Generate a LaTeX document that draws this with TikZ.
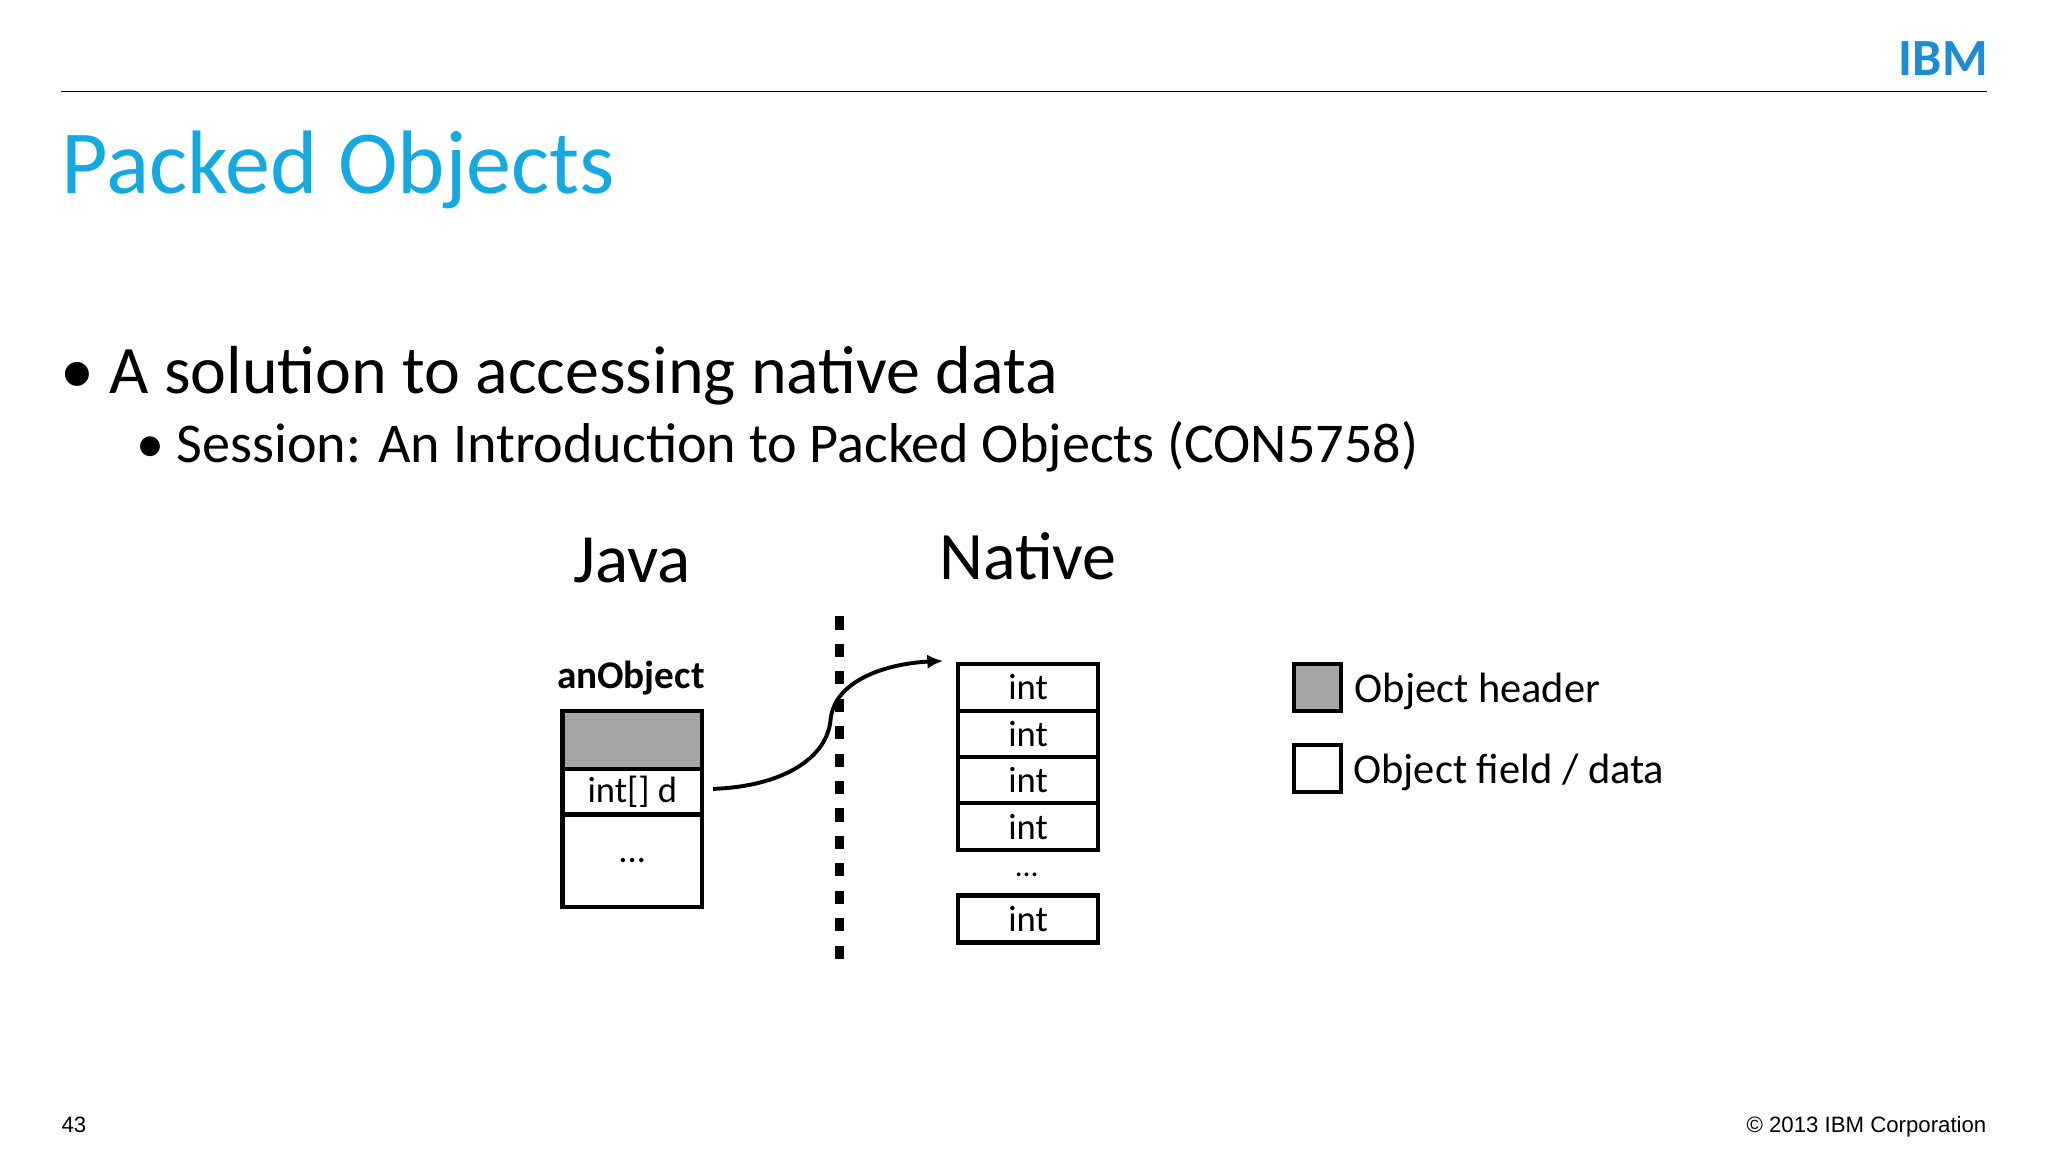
\documentclass[tikz,border=0pt]{standalone}
\usepackage{fontspec}
\usetikzlibrary{arrows.meta}
\setmainfont{Carlito}
\newfontfamily\arialf{Liberation Sans}
\definecolor{ibmcyan}{RGB}{20,170,225}
\definecolor{ibmblue}{RGB}{30,140,210}
\definecolor{hdrgray}{RGB}{165,165,165}
\begin{document}
\begin{tikzpicture}[x=1pt,y=-1pt,
  cell/.style={draw=black,line width=3.2pt,minimum width=107pt,inner sep=0pt,anchor=north west},
  lbl/.style={inner sep=0pt,anchor=base west}]
\useasboundingbox (0,0) rectangle (1568,882);
\draw[line width=1.2pt] (47,70) -- (1521,70);
\node[anchor=east,inner sep=0pt,text=ibmblue,font=\bfseries\fontsize{40}{40}\selectfont] (ibm) at (1522,45) {IBM};
\node[lbl,text=ibmcyan,font=\fontsize{69}{69}\selectfont] (title) at (47,148) {Packed Objects};
\node[lbl,font=\fontsize{52}{52}\selectfont] (b1) at (46,301) {\textbullet\ A solution to accessing native data};
\node[lbl,font=\fontsize{43}{43}\selectfont] (b2) at (104,354) {\textbullet\ Session: An Introduction to Packed Objects (CON5758)};
\node[inner sep=0pt,anchor=base,font=\fontsize{53}{53}\selectfont] (java) at (484,446) {Java};
\node[inner sep=0pt,anchor=base,font=\fontsize{52}{52}\selectfont] (native) at (787,444) {Native};
\node[inner sep=0pt,anchor=base,font=\bfseries\fontsize{30}{30}\selectfont] (anobj) at (483,527) {anObject};
\node[cell,minimum height=44pt,fill=hdrgray] (jh) at (429,543) {};
\node[cell,minimum height=35pt,font=\fontsize{28}{28}\selectfont] (jf) at (429,587) {int[] d};
\node[cell,minimum height=71pt,font=\fontsize{28}{28}\selectfont] (jr) at (429,622) {...};
\draw[line width=7pt,dash pattern=on 10pt off 11pt] (643,472) -- (643,740);
\foreach \i/\y in {1/507,2/542.5,3/578,4/613.5}
  \node[cell,minimum height=35.5pt,font=\fontsize{28}{28}\selectfont] (n\i) at (732,\y) {int};
\node[inner sep=0pt,font=\fontsize{24}{24}\selectfont] (ndots) at (786,670) {...};
\node[cell,minimum height=36pt,font=\fontsize{28}{28}\selectfont] (n5) at (732,684) {int};
\coordinate (as) at (546,604);
\coordinate (ae) at (722,506);
\draw[line width=3pt,-{Latex[length=12pt,width=11pt]}] (as) .. controls (600,602) and (634,580) .. (636,550) .. controls (640,520) and (680,508) .. (ae);
\node[draw,line width=3.2pt,fill=hdrgray,minimum size=36pt,inner sep=0pt,anchor=north west] (lg1) at (989,507) {};
\node[draw,line width=3.2pt,minimum size=36pt,inner sep=0pt,anchor=north west] (lg2) at (989,569) {};
\node[lbl,font=\fontsize{32.5}{32.5}\selectfont] (lt1) at (1037,538) {Object header};
\node[lbl,font=\fontsize{32.5}{32.5}\selectfont] (lt2) at (1036,600) {Object field / data};
\node[lbl,font=\arialf\fontsize{17}{17}\selectfont] (pg) at (47,867) {43};
\node[inner sep=0pt,anchor=base east,font=\arialf\fontsize{17}{17}\selectfont] (copy) at (1521,867) {© 2013 IBM Corporation};
\end{tikzpicture}
\end{document}
